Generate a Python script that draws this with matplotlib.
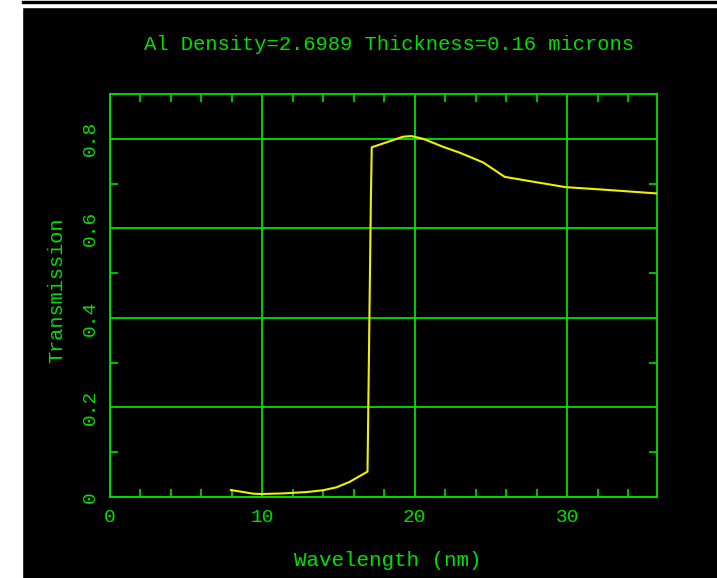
import matplotlib
matplotlib.use('Agg')
import matplotlib.pyplot as plt
from matplotlib.patches import Rectangle
from matplotlib.ticker import MultipleLocator

# Al filter transmission
wavelength = [7.93, 8.85, 9.4, 9.95, 11.35, 12.9, 13.97, 14.86, 15.74, 16.4, 16.9,
              17.12, 17.18, 18.14, 19.23, 19.78, 20.55, 21.86, 22.95, 24.5, 25.9,
              27.97, 29.9, 32.56, 35.85]
transmission = [0.0156, 0.0105, 0.0074, 0.0067, 0.008, 0.011, 0.015, 0.0216, 0.034, 0.047, 0.0566,
                0.66, 0.781, 0.792, 0.8046, 0.806, 0.80, 0.782, 0.769, 0.747, 0.715,
                0.703, 0.692, 0.686, 0.678]

title_txt = 'Al Density=2.6989 Thickness=0.16 microns'
xlab = 'Wavelength (nm)'
ylab = 'Transmission'
xticks = [0, 10, 20, 30]
yticks = [0, 0.2, 0.4, 0.6, 0.8]
yticklabs = ['0', '0.2', '0.4', '0.6', '0.8']

green = '#00e000'
yel = '#f0f000'
font = 'Liberation Mono'

W, H = 717, 578
fig = plt.figure(figsize=(W / 100, H / 100), dpi=100, facecolor='black')

# white frame bits from the screenshot
fig.patches.append(Rectangle((0, 0), 22 / W, 1, transform=fig.transFigure, color='white', zorder=0))
fig.patches.append(Rectangle((0, 1 - 7 / H), 1, 7 / H, transform=fig.transFigure, color='white', zorder=0))
fig.patches.append(Rectangle((22 / W, 1 - 2.5 / H), 1, 1.5 / H, transform=fig.transFigure, color='black', zorder=1))

ax = fig.add_axes([110 / W, 1 - 497 / H, (657 - 110) / W, (497 - 94) / H])
ax.set_facecolor('black')
ax.plot(wavelength, transmission, color=yel, lw=1.5, zorder=3)

ax.set_xlim(0, 35.9)
ax.set_ylim(0, 0.9)
ax.xaxis.set_minor_locator(MultipleLocator(2))
ax.yaxis.set_minor_locator(MultipleLocator(0.1))
ax.grid(True, which='major', color=green, lw=1.3)
for s in ax.spines.values():
    s.set_color(green)
    s.set_linewidth(1.3)
ax.tick_params(which='both', direction='in', colors=green, top=True, right=True)
ax.tick_params(which='major', length=0)
ax.tick_params(which='minor', length=6, width=1.2)
ax.set_xticks(xticks)
ax.set_xticklabels([str(v) for v in xticks], family=font, color=green, fontsize=14)
ax.set_yticks(yticks)
ax.set_yticklabels(yticklabs, family=font, color=green, fontsize=14,
                   rotation=90, va='center')
ax.tick_params(axis='x', pad=9)
ax.tick_params(axis='y', pad=8)

fig.text(389 / W, 1 - 45 / H, title_txt, family=font, color=green, fontsize=14.8,
         ha='center', va='center')
fig.text(388 / W, 1 - 560 / H, xlab, family=font, color=green, fontsize=15,
         ha='center', va='center')
fig.text(57 / W, 1 - 290 / H, ylab, family=font, color=green, fontsize=14.6,
         ha='center', va='center', rotation=90)

fig.savefig('out.png', dpi=100, facecolor='black')
